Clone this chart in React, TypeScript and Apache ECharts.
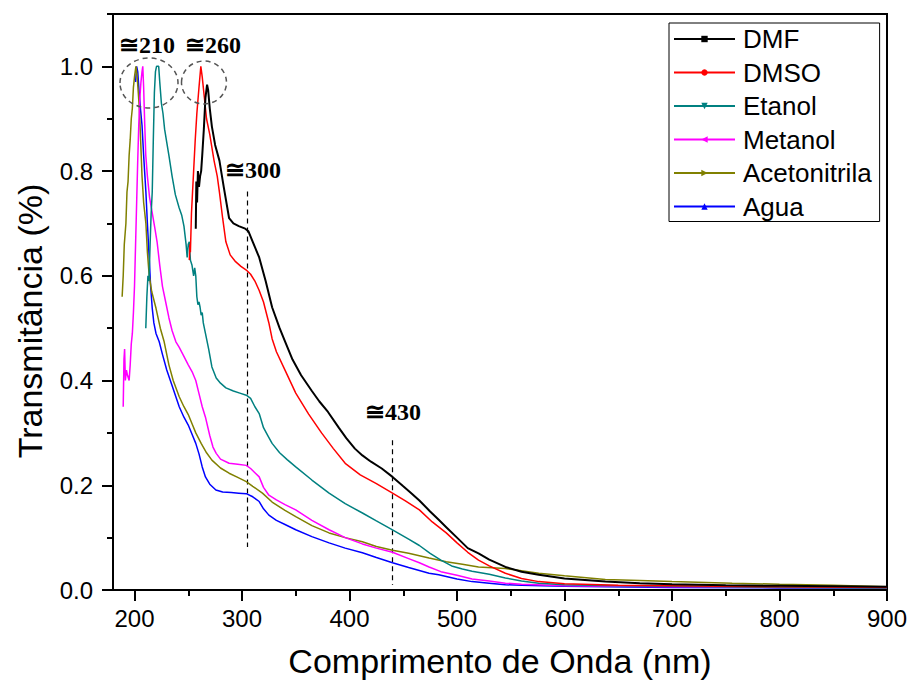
import React, { useEffect, useRef } from "react";
import * as echarts from "echarts";

const seriesNames = ["DMF", "DMSO", "Etanol", "Metanol", "Acetonitrila", "Agua"];
const seriesColors = ["#000000", "#ff0000", "#008080", "#ff00ff", "#808000", "#0000ff"];
const seriesSymbols = [
  "rect",
  "circle",
  "path://M0,0L2,0L1,2Z",
  "path://M0,1L2,0L2,2Z",
  "path://M0,0L2,1L0,2Z",
  "triangle",
];

const dmf = [[257,0.69],[257.5,0.78],[258.2,0.74],[259,0.80],[260,0.77],[261,0.79],[262,0.80],[263,0.83],[264.5,0.88],[266,0.94],[267.5,0.965],[268.5,0.955],[270,0.92],[272,0.885],[275,0.85],[279,0.82],[283,0.77],[288,0.71],[292,0.70],[297,0.695],[303,0.69],[306,0.685],[310,0.665],[316,0.635],[322,0.59],[328,0.54],[335,0.50],[340,0.475],[347,0.44],[355,0.41],[365,0.38],[372,0.36],[380,0.34],[390,0.31],[397,0.29],[405,0.27],[412,0.257],[420,0.245],[430,0.232],[440,0.216],[450,0.198],[458,0.184],[465,0.171],[475,0.15],[483,0.134],[490,0.12],[500,0.10],[510,0.08],[520,0.07],[530,0.058],[545,0.044],[560,0.035],[576,0.029],[600,0.022],[638,0.016],[670,0.013],[700,0.011],[750,0.009],[800,0.008],[850,0.007],[900,0.006]];

const dmso = [[251,0.63],[251.5,0.66],[252,0.645],[253,0.72],[254,0.76],[255,0.80],[256.5,0.86],[258,0.91],[260,0.96],[261.7,1.0],[263,0.98],[265,0.94],[267,0.90],[270,0.87],[274,0.82],[277,0.79],[279,0.76],[282,0.71],[285,0.665],[289,0.64],[294,0.627],[299,0.618],[304,0.611],[308,0.603],[312,0.59],[316,0.572],[320,0.55],[325,0.51],[328,0.48],[332,0.455],[340,0.42],[350,0.376],[362,0.336],[374,0.30],[385,0.27],[396,0.242],[410,0.22],[425,0.203],[440,0.185],[452,0.17],[465,0.153],[477,0.13],[490,0.109],[500,0.09],[510,0.072],[520,0.057],[530,0.046],[545,0.032],[560,0.022],[576,0.016],[600,0.012],[650,0.009],[700,0.008],[800,0.006],[900,0.005]];

const etanol = [[210.5,0.50],[211.5,0.56],[212.5,0.60],[213.5,0.59],[214.5,0.66],[215.5,0.72],[216.5,0.76],[217.5,0.86],[218.5,0.95],[219.5,0.99],[220.5,1.0],[222.5,1.0],[223.5,0.97],[225,0.93],[226.5,0.91],[228,0.88],[230,0.855],[232,0.83],[235,0.79],[238,0.755],[241.5,0.73],[244,0.715],[246,0.695],[248,0.66],[249,0.635],[250,0.66],[251,0.665],[252,0.63],[253.5,0.62],[255,0.60],[256,0.615],[257,0.60],[258,0.56],[259,0.545],[260,0.55],[261,0.54],[262,0.525],[263,0.53],[264,0.51],[266,0.49],[269,0.46],[272,0.426],[276,0.405],[280,0.395],[285,0.386],[292,0.38],[298,0.376],[304,0.372],[308,0.366],[312,0.35],[316,0.337],[320,0.31],[324,0.295],[328,0.28],[335,0.262],[342,0.249],[350,0.235],[365,0.21],[381,0.185],[396,0.165],[412,0.147],[425,0.132],[440,0.115],[455,0.097],[465,0.085],[475,0.07],[485,0.057],[495,0.046],[505,0.04],[514,0.036],[530,0.03],[545,0.023],[560,0.017],[576,0.013],[600,0.01],[650,0.008],[700,0.007],[800,0.005],[900,0.004]];

const metanol = [[189.5,0.35],[190.2,0.44],[190.8,0.46],[191.5,0.40],[192.5,0.42],[193.5,0.41],[195,0.40],[196,0.43],[197,0.47],[198,0.49],[199,0.53],[200,0.58],[201,0.66],[202,0.74],[203,0.82],[204,0.89],[205,0.94],[206,0.97],[207,0.99],[207.7,1.0],[208.5,0.96],[209.5,0.89],[210.5,0.83],[212,0.79],[214,0.75],[216.5,0.72],[219,0.69],[221,0.665],[223.5,0.62],[226,0.58],[229,0.55],[232,0.52],[235,0.495],[238.5,0.474],[241.5,0.464],[245,0.45],[250,0.43],[254,0.415],[257,0.40],[260,0.375],[263,0.35],[266,0.33],[270,0.295],[273,0.273],[276,0.261],[280,0.25],[288,0.242],[296,0.24],[304,0.238],[308,0.232],[312,0.224],[316,0.216],[320,0.196],[325,0.181],[332,0.172],[340,0.163],[350,0.153],[365,0.133],[381,0.115],[396,0.10],[412,0.088],[425,0.08],[440,0.072],[455,0.06],[465,0.052],[474,0.044],[485,0.035],[500,0.028],[514,0.021],[530,0.017],[545,0.013],[560,0.011],[600,0.008],[650,0.007],[700,0.006],[800,0.005],[900,0.005]];

const acetonitrila = [[188.5,0.56],[189.5,0.60],[190.5,0.66],[192,0.70],[193,0.76],[194,0.78],[195,0.83],[196,0.86],[197,0.90],[198,0.92],[199,0.96],[200,0.98],[201.3,1.0],[202.5,0.98],[203.5,0.95],[204.5,0.92],[205.5,0.87],[207,0.79],[208.5,0.74],[210.6,0.70],[212,0.645],[213.7,0.60],[216,0.57],[220,0.538],[224,0.50],[227.6,0.474],[232,0.43],[236,0.40],[241.6,0.369],[246,0.35],[250,0.335],[254,0.315],[257,0.30],[262,0.28],[267,0.262],[272,0.248],[280,0.233],[288,0.223],[296,0.215],[304,0.207],[310,0.198],[319,0.185],[328,0.168],[340,0.152],[350,0.14],[365,0.123],[381,0.109],[396,0.10],[412,0.092],[425,0.083],[440,0.076],[455,0.07],[474,0.061],[490,0.054],[505,0.049],[520,0.044],[545,0.041],[560,0.037],[576,0.032],[600,0.027],[638,0.02],[670,0.018],[700,0.016],[756,0.013],[800,0.011],[850,0.009],[900,0.006]];

const agua = [[201,0.97],[202,1.0],[203,0.99],[204,0.96],[205.5,0.92],[207,0.887],[208.5,0.83],[210.6,0.76],[212,0.70],[213.7,0.633],[215,0.58],[216.5,0.538],[218,0.51],[220,0.49],[223,0.474],[226,0.45],[230,0.42],[235,0.39],[241.6,0.35],[246,0.33],[250,0.315],[254,0.295],[257,0.28],[260,0.26],[263,0.235],[266,0.216],[270,0.202],[275.7,0.191],[282,0.187],[290,0.186],[297,0.185],[304,0.184],[310,0.178],[316,0.169],[320,0.155],[325,0.143],[332,0.133],[340,0.125],[350,0.115],[365,0.102],[381,0.09],[396,0.08],[412,0.071],[425,0.062],[440,0.052],[455,0.043],[474,0.032],[483,0.029],[500,0.021],[514,0.016],[530,0.013],[545,0.01],[560,0.009],[600,0.007],[700,0.005],[800,0.004],[900,0.004]];

const seriesData = [dmf, dmso, etanol, metanol, acetonitrila, agua];

const xMajorTicks = [200, 300, 400, 500, 600, 700, 800, 900];
const xMinorTicks = [250, 350, 450, 550, 650, 750, 850];
const yMajorTicks = [0, 0.2, 0.4, 0.6, 0.8, 1.0];
const yMinorTicks = [0.1, 0.3, 0.5, 0.7, 0.9, 1.1];

const peakMarks = [
  { label: "\u2245210", x: 119, y: 45 },
  { label: "\u2245260", x: 185, y: 45 },
  { label: "\u2245300", x: 225, y: 170 },
  { label: "\u2245430", x: 365, y: 412 },
];
const dashLines = [
  [[304.5, 0.761], [304.5, 0.082]],
  [[440, 0.286], [440, 0.0095]],
];

export default function App() {
  const ref = useRef<HTMLDivElement>(null);
  useEffect(() => {
    document.body.style.margin = "0";
    const chart = echarts.init(ref.current!, null, { renderer: "svg" });
    const font = "'Liberation Sans', Arial, sans-serif";
    const serif = "'Liberation Serif', 'Times New Roman', 'DejaVu Serif', serif";
    const series: any[] = seriesNames.map((name, i) => ({
      name,
      type: "line",
      data: seriesData[i],
      symbol: seriesSymbols[i],
      symbolSize: 6,
      showSymbol: false,
      lineStyle: { color: seriesColors[i], width: i === 0 ? 2 : 1.5 },
      itemStyle: { color: seriesColors[i] },
      z: 10 - i,
    }));
    series[0].markLine = {
      silent: true,
      symbol: "none",
      label: { show: false },
      lineStyle: { color: "#000", type: [5, 4], width: 1.2 },
      data: dashLines.map((l) => [{ coord: l[0] }, { coord: l[1] }]),
    };
    const tickStyle = { color: "#000", width: 2 };
    chart.setOption({
      animation: false,
      backgroundColor: "#fff",
      grid: {
        left: 113,
        right: 23,
        top: 14,
        bottom: 94,
        show: true,
        borderColor: "#000",
        borderWidth: 2,
        outerBoundsMode: "none",
      },
      legend: {
        orient: "vertical",
        left: 669,
        top: 23,
        data: seriesNames,
        itemWidth: 61,
        itemHeight: 8,
        itemGap: 7.5,
        padding: [3, 8, 2, 4],
        borderColor: "#000",
        borderWidth: 1,
        backgroundColor: "#fff",
        textStyle: { fontFamily: font, fontSize: 26, color: "#000", lineHeight: 26, padding: [0, 0, 0, 3] },
      },
      xAxis: [
        {
          type: "value",
          min: 180,
          max: 900,
          name: "Comprimento de Onda (nm)",
          nameLocation: "middle",
          nameGap: 54,
          nameTextStyle: { fontFamily: font, fontSize: 34, color: "#000" },
          axisLine: { lineStyle: { color: "#000", width: 2 } },
          axisTick: { length: 11, lineStyle: tickStyle, customValues: xMajorTicks },
          splitLine: { show: false },
          axisLabel: {
            margin: 16,
            fontFamily: font,
            fontSize: 24,
            color: "#000",
            customValues: xMajorTicks,
            showMinLabel: true,
            showMaxLabel: true,
          },
        },
        {
          type: "value",
          min: 180,
          max: 900,
          position: "bottom",
          axisLine: { show: false },
          axisTick: { length: 6, lineStyle: tickStyle, customValues: xMinorTicks },
          axisLabel: { show: false },
          splitLine: { show: false },
        },
      ],
      yAxis: [
        {
          type: "value",
          min: 0,
          max: 1.1,
          name: "Transmitância (%)",
          nameLocation: "middle",
          nameGap: 66,
          nameTextStyle: { fontFamily: font, fontSize: 34, color: "#000", padding: [0, 38, 0, 0] },
          axisLine: { lineStyle: { color: "#000", width: 2 } },
          axisTick: { length: 11, lineStyle: tickStyle, customValues: yMajorTicks },
          splitLine: { show: false },
          axisLabel: {
            margin: 20,
            fontFamily: font,
            fontSize: 24,
            color: "#000",
            customValues: yMajorTicks,
            formatter: (v: number) => v.toFixed(1),
          },
        },
        {
          type: "value",
          min: 0,
          max: 1.1,
          position: "left",
          axisLine: { show: false },
          axisTick: { length: 6, lineStyle: tickStyle, customValues: yMinorTicks },
          axisLabel: { show: false },
          splitLine: { show: false },
        },
      ],
      graphic: [
        ...peakMarks.map((p) => ({
          type: "text",
          x: p.x,
          y: p.y,
          z: 100,
          style: {
            text: p.label,
            font: `bold 24px ${serif}`,
            fill: "#000",
            verticalAlign: "middle",
            align: "left",
          },
        })),
        {
          type: "ellipse",
          z: 100,
          shape: { cx: 149, cy: 83, rx: 29, ry: 25 },
          style: { fill: "none", stroke: "#555", lineWidth: 1.5, lineDash: [5, 4] },
        },
        {
          type: "ellipse",
          z: 100,
          shape: { cx: 204, cy: 82.5, rx: 22.5, ry: 21.5 },
          style: { fill: "none", stroke: "#555", lineWidth: 1.5, lineDash: [5, 4] },
        },
      ],
      series,
    });
    return () => chart.dispose();
  }, []);
  return <div ref={ref} style={{ width: 910, height: 684 }} />;
}
